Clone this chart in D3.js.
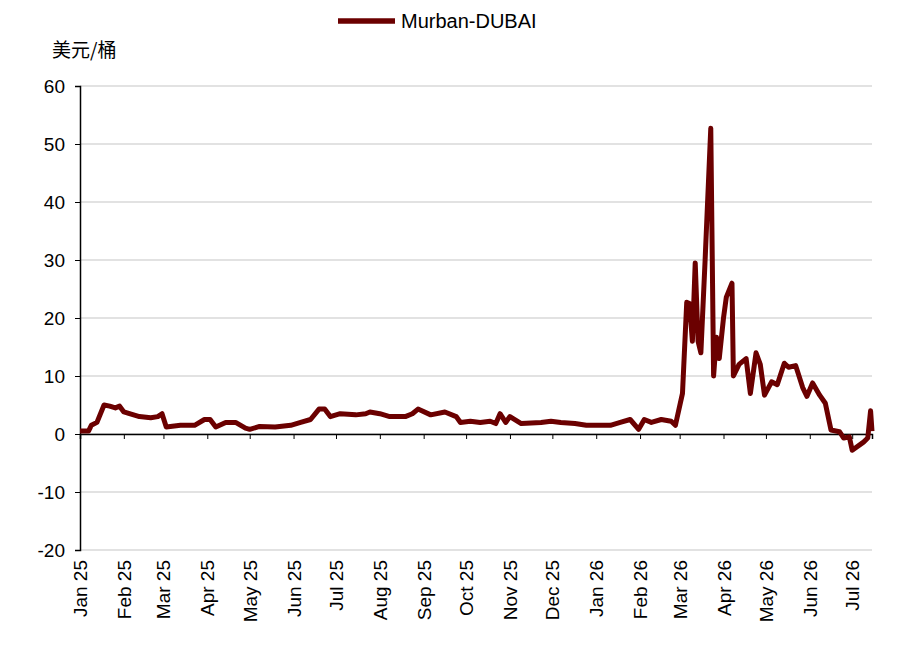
<!DOCTYPE html>
<html><head><meta charset="utf-8">
<script src="https://cdn.jsdelivr.net/npm/d3@7"></script>
<style>body{margin:0;background:#fff;font-family:"Liberation Sans",Arial,sans-serif}</style>
</head><body><svg width="900" height="653"></svg>
<script>
const seriesName = "Murban-DUBAI";
const unitLabel = "美元/桶";
const yTicks = [-20, -10, 0, 10, 20, 30, 40, 50, 60];
const dates = ["2025-01-01","2025-01-07","2025-01-09","2025-01-13","2025-01-18","2025-01-22","2025-01-26","2025-01-29","2025-02-01","2025-02-05","2025-02-12","2025-02-20","2025-02-25","2025-02-28","2025-03-03","2025-03-13","2025-03-23","2025-03-30","2025-04-03","2025-04-07","2025-04-14","2025-04-21","2025-04-28","2025-05-01","2025-05-08","2025-05-19","2025-05-30","2025-06-06","2025-06-13","2025-06-19","2025-06-23","2025-06-27","2025-07-04","2025-07-15","2025-07-22","2025-07-25","2025-08-01","2025-08-08","2025-08-19","2025-08-24","2025-08-28","2025-09-06","2025-09-16","2025-09-24","2025-09-27","2025-10-04","2025-10-11","2025-10-18","2025-10-22","2025-10-25","2025-10-29","2025-11-01","2025-11-09","2025-11-23","2025-11-30","2025-12-07","2025-12-17","2025-12-25","2026-01-04","2026-01-11","2026-01-18","2026-01-25","2026-01-31","2026-02-04","2026-02-09","2026-02-16","2026-02-23","2026-02-26","2026-03-03","2026-03-06","2026-03-08","2026-03-10","2026-03-12","2026-03-14","2026-03-16","2026-03-19","2026-03-23","2026-03-25","2026-03-27","2026-03-29","2026-04-01","2026-04-03","2026-04-07","2026-04-08","2026-04-12","2026-04-17","2026-04-20","2026-04-24","2026-04-27","2026-04-30","2026-05-05","2026-05-09","2026-05-14","2026-05-17","2026-05-22","2026-05-27","2026-05-30","2026-06-03","2026-06-08","2026-06-12","2026-06-16","2026-06-22","2026-06-25","2026-06-29","2026-07-01","2026-07-09","2026-07-12","2026-07-14","2026-07-15"];
const spread = [0.5,0.5,1.5,2,5,4.8,4.5,4.8,3.8,3.5,3,2.8,3,3.5,1.2,1.5,1.5,2.5,2.5,1.2,2,2,1,0.8,1.3,1.2,1.5,2,2.5,4.3,4.3,3,3.5,3.3,3.5,3.8,3.5,3,3,3.5,4.3,3.3,3.8,3,2,2.2,2,2.2,1.8,3.5,2,3,1.8,2,2.2,2,1.8,1.5,1.5,1.5,2,2.5,0.8,2.5,2,2.5,2.2,1.5,7,22.7,22.5,16,29.5,16,14,30,52.7,10,16.7,13,20,23.6,26,10,12,13,7,14,12,6.7,9,8.5,12.2,11.5,11.8,8,6.5,8.8,6.7,5.3,0.7,0.4,-0.7,-0.5,-2.8,-1.4,-0.7,4,0.5];

const parse = d3.timeParse("%Y-%m-%d");
const data = dates.map((d, i) => ({date: parse(d), v: spread[i]}));

const svg = d3.select("svg");
const x = d3.scaleTime().domain([parse("2025-01-01"), parse("2026-07-15")]).range([80, 872]);
const y = d3.scaleLinear().domain([-20, 60]).range([550, 86]);

// gridlines
svg.append("g").selectAll("line").data(yTicks).enter().append("line")
  .attr("x1", 80).attr("x2", 872)
  .attr("y1", d => y(d)).attr("y2", d => y(d))
  .attr("stroke", "#d9d9d9").attr("stroke-width", 1.5);

// y axis
const ya = svg.append("g").attr("transform", "translate(80,0)")
  .call(d3.axisLeft(y).tickValues(yTicks).tickSize(5).tickPadding(10).tickFormat(d => String(d)));
ya.select(".domain").attr("stroke", "#000").attr("stroke-width", 1.5);
ya.selectAll("text").attr("font-size", 19).attr("fill", "#000").attr("font-family", "Liberation Sans, Arial");

// x axis at zero
const months = d3.timeMonth.range(parse("2025-01-01"), parse("2026-07-15"));
const xa = svg.append("g").attr("transform", `translate(0,${y(0)})`)
  .call(d3.axisBottom(x).tickValues(months).tickSize(5).tickFormat(""));
xa.select(".domain").attr("stroke", "#000").attr("stroke-width", 1.5);

// month labels at bottom
svg.append("g").selectAll("text").data(months).enter().append("text")
  .attr("transform", d => `translate(${x(d) + 7},${560}) rotate(-90)`)
  .attr("text-anchor", "end")
  .attr("font-size", 19).attr("fill", "#000")
  .text(d3.timeFormat("%b %y"));

// series line
svg.append("path").datum(data)
  .attr("fill", "none").attr("stroke", "#6b0000").attr("stroke-width", 5)
  .attr("stroke-linejoin", "round")
  .attr("d", d3.line().x(d => x(d.date)).y(d => y(d.v)));

// legend
svg.append("line").attr("x1", 338).attr("x2", 395).attr("y1", 21).attr("y2", 21)
  .attr("stroke", "#6b0000").attr("stroke-width", 5.5);
svg.append("text").attr("x", 401).attr("y", 28).attr("font-size", 20).text(seriesName);

svg.append("text").attr("x", 52).attr("y", 57).attr("font-size", 19)
  .attr("font-family", "Noto Sans CJK SC").text(unitLabel);
</script></body></html>
